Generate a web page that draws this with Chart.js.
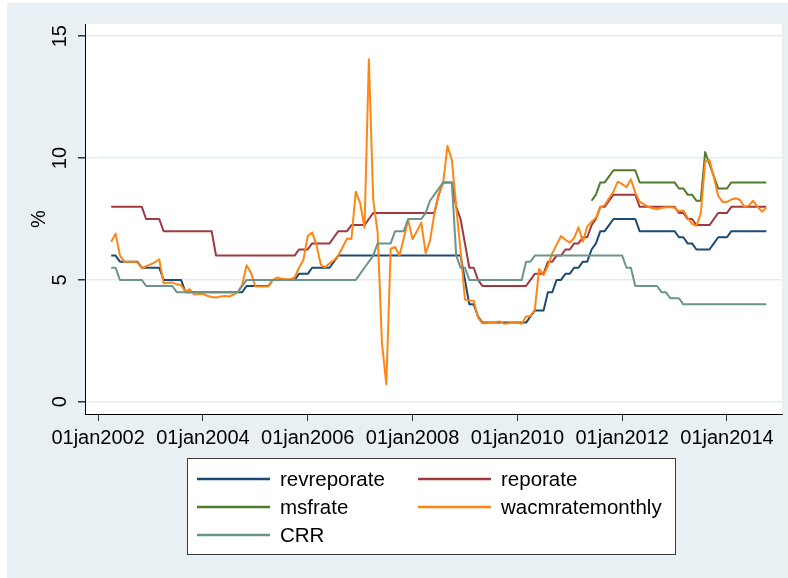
<!DOCTYPE html>
<html>
<head>
<meta charset="utf-8">
<script src="https://cdn.jsdelivr.net/npm/chart.js@4.4.1/dist/chart.umd.min.js"></script>
<style>
    html, body { margin: 0; padding: 0; background: #fff; }
    #wrap { width: 788px; height: 578px; }
</style>
</head>
<body>
<div id="wrap"><canvas id="rates" width="788" height="578"></canvas></div>
<script>
// Monthly series. Month 0 = Jan 2002, so firstMonth 3 = Apr 2002, last point = Oct 2014
const firstMonth = 3;
const msfStart = 113;   // MSF begins May 2011

const revreporate = [
    6, 6, 5.75, 5.75, 5.75, 5.75, 5.75, 5.5, 5.5,                      // 2002
    5.5, 5.5, 5.5, 5, 5, 5, 5, 5, 4.5, 4.5, 4.5, 4.5,                  // 2003
    4.5, 4.5, 4.5, 4.5, 4.5, 4.5, 4.5, 4.5, 4.5, 4.5, 4.75, 4.75,      // 2004
    4.75, 4.75, 4.75, 4.75, 5, 5, 5, 5, 5, 5, 5.25, 5.25,              // 2005
    5.25, 5.5, 5.5, 5.5, 5.5, 5.5, 5.75, 6, 6, 6, 6, 6,                // 2006
    6, 6, 6, 6, 6, 6, 6, 6, 6, 6, 6, 6,                                // 2007
    6, 6, 6, 6, 6, 6, 6, 6, 6, 6, 6, 6,                                // 2008
    5, 4, 4, 3.5, 3.25, 3.25, 3.25, 3.25, 3.25, 3.25, 3.25, 3.25,      // 2009
    3.25, 3.25, 3.25, 3.5, 3.75, 3.75, 3.75, 4.5, 4.5, 5, 5, 5.25,     // 2010
    5.25, 5.5, 5.5, 5.75, 5.75, 6.25, 6.5, 7, 7, 7.25, 7.5, 7.5,       // 2011
    7.5, 7.5, 7.5, 7.5, 7, 7, 7, 7, 7, 7, 7, 7,                        // 2012
    7, 6.75, 6.75, 6.5, 6.5, 6.25, 6.25, 6.25, 6.25, 6.5, 6.75, 6.75,  // 2013
    6.75, 7, 7, 7, 7, 7, 7, 7, 7, 7                                    // 2014
];

const reporate = [
    8, 8, 8, 8, 8, 8, 8, 8, 7.5,
    7.5, 7.5, 7.5, 7, 7, 7, 7, 7, 7, 7, 7, 7,
    7, 7, 7, 6, 6, 6, 6, 6, 6, 6, 6, 6,
    6, 6, 6, 6, 6, 6, 6, 6, 6, 6, 6.25, 6.25,
    6.25, 6.5, 6.5, 6.5, 6.5, 6.5, 6.75, 7, 7, 7, 7.25, 7.25,
    7.25, 7.25, 7.5, 7.75, 7.75, 7.75, 7.75, 7.75, 7.75, 7.75, 7.75, 7.75,
    7.75, 7.75, 7.75, 7.75, 7.75, 7.75, 8.5, 9, 9, 9, 8, 7.5,
    6.5, 5.5, 5.5, 5, 4.75, 4.75, 4.75, 4.75, 4.75, 4.75, 4.75, 4.75,
    4.75, 4.75, 4.75, 5, 5.25, 5.25, 5.25, 5.75, 5.75, 6, 6, 6.25,
    6.25, 6.5, 6.5, 6.75, 6.75, 7.25, 7.5, 8, 8, 8.25, 8.5, 8.5,
    8.5, 8.5, 8.5, 8.5, 8, 8, 8, 8, 8, 8, 8, 8,
    8, 7.75, 7.75, 7.5, 7.5, 7.25, 7.25, 7.25, 7.25, 7.5, 7.75, 7.75,
    7.75, 8, 8, 8, 8, 8, 8, 8, 8, 8
];

const msfrate = [
    8.25, 8.5, 9, 9, 9.25, 9.5, 9.5,                                   // 2011
    9.5, 9.5, 9.5, 9.5, 9, 9, 9, 9, 9, 9, 9, 9,                        // 2012
    9, 8.75, 8.75, 8.5, 8.5, 8.25, 8.25, 10.25, 9.75, 9.25, 8.75, 8.75,// 2013
    8.75, 9, 9, 9, 9, 9, 9, 9, 9, 9                                    // 2014
];

const wacmratemonthly = [
    6.57, 6.9, 6.0, 5.75, 5.75, 5.75, 5.72, 5.48, 5.56,
    5.64, 5.72, 5.85, 4.86, 4.88, 4.89, 4.82, 4.78, 4.52, 4.62, 4.4, 4.42,
    4.43, 4.35, 4.3, 4.28, 4.32, 4.34, 4.32, 4.4, 4.5, 4.8, 5.6, 5.3,
    4.73, 4.73, 4.73, 4.73, 5.0, 5.1, 5.05, 5.03, 5.03, 5.1, 5.5, 5.82,
    6.8, 6.95, 6.45, 5.62, 5.52, 5.68, 5.8, 6.0, 6.35, 6.7, 6.68, 8.62,
    8.15, 7.14, 14.05, 8.28, 6.95, 2.4, 0.72, 6.28, 6.35, 6.0, 6.72, 7.46,
    6.67, 7.0, 7.35, 6.1, 6.6, 7.72, 8.55, 8.96, 10.5, 9.92, 8.0, 6.2,
    4.2, 4.15, 4.15, 3.45, 3.22, 3.22, 3.24, 3.27, 3.3, 3.2, 3.22, 3.25,
    3.25, 3.2, 3.5, 3.52, 3.78, 5.45, 5.2, 5.58, 6.1, 6.45, 6.8, 6.65,
    6.53, 6.72, 7.16, 6.57, 7.19, 7.39, 7.55, 7.98, 8.07, 8.35, 8.62, 9.03,
    8.93, 8.8, 9.13, 8.58, 8.21, 8.1, 8.0, 7.94, 7.9, 7.95, 7.98, 7.98,
    7.96, 7.82, 7.85, 7.55, 7.3, 7.22, 7.72, 9.85, 9.92, 9.2, 8.45, 8.2,
    8.2, 8.3, 8.35, 8.28, 8.0, 8.05, 8.25, 8.0, 7.8, 7.95
];

const crr = [
    5.5, 5.5, 5, 5, 5, 5, 5, 5, 4.75,
    4.75, 4.75, 4.75, 4.75, 4.75, 4.75, 4.5, 4.5, 4.5, 4.5, 4.5, 4.5,
    4.5, 4.5, 4.5, 4.5, 4.5, 4.5, 4.5, 4.5, 4.5, 4.75, 5, 5,
    5, 5, 5, 5, 5, 5, 5, 5, 5, 5, 5, 5,
    5, 5, 5, 5, 5, 5, 5, 5, 5, 5, 5, 5,
    5.25, 5.5, 5.75, 6, 6.5, 6.5, 6.5, 6.5, 7, 7, 7, 7.5,
    7.5, 7.5, 7.5, 7.75, 8.25, 8.5, 8.75, 9, 9, 9, 6, 5.5,
    5.5, 5, 5, 5, 5, 5, 5, 5, 5, 5, 5, 5,
    5, 5, 5.75, 5.75, 6, 6, 6, 6, 6, 6, 6, 6,
    6, 6, 6, 6, 6, 6, 6, 6, 6, 6, 6, 6,
    6, 5.5, 5.5, 4.75, 4.75, 4.75, 4.75, 4.75, 4.75, 4.5, 4.5, 4.25,
    4.25, 4.25, 4, 4, 4, 4, 4, 4, 4, 4, 4, 4,
    4, 4, 4, 4, 4, 4, 4, 4, 4, 4
];

const tickMonths = [0, 24, 48, 72, 96, 120, 144];
const tickLabels = ['01jan2002', '01jan2004', '01jan2006', '01jan2008', '01jan2010', '01jan2012', '01jan2014'];
const yTicks = [0, 5, 10, 15];

const seriesNames = ['revreporate', 'reporate', 'msfrate', 'wacmratemonthly', 'CRR'];
const seriesColors = ['#1c4a74', '#a0383e', '#4f7a2b', '#ff8614', '#6b958a'];

const FONT = '"Liberation Sans", Arial, sans-serif';

function toPoints(values, start) {
    return values.map((v, i) => ({ x: start + i, y: v }));
}

const seriesData = [
    toPoints(revreporate, firstMonth),
    toPoints(reporate, firstMonth),
    toPoints(msfrate, msfStart),
    toPoints(wacmratemonthly, firstMonth),
    toPoints(crr, firstMonth)
];

// stata-like backdrop: light blue graph region, white plot region
const stataBackground = {
    id: 'stataBackground',
    beforeDraw(chart) {
        const { ctx, chartArea: a } = chart;
        ctx.save();
        ctx.fillStyle = '#ffffff';
        ctx.fillRect(0, 0, chart.width, chart.height);
        ctx.fillStyle = '#e8f0f3';
        ctx.fillRect(7, 3, chart.width - 7, chart.height - 3);
        ctx.fillStyle = '#ffffff';
        ctx.fillRect(a.left, a.top, a.right - a.left, a.bottom - a.top);
        ctx.restore();
    }
};

// boxed two-column legend under the axis
const stataLegend = {
    id: 'stataLegend',
    afterDraw(chart) {
        const ctx = chart.ctx;
        const box = { x: 187, y: 458, w: 488, h: 96 };
        ctx.save();
        ctx.fillStyle = '#ffffff';
        ctx.fillRect(box.x, box.y, box.w, box.h);
        ctx.strokeStyle = '#3a3a3a';
        ctx.lineWidth = 1;
        ctx.strokeRect(box.x + 0.5, box.y + 0.5, box.w, box.h);
        ctx.font = '20.5px ' + FONT;
        ctx.textBaseline = 'middle';
        chart.data.datasets.forEach((ds, i) => {
            const col = i % 2;
            const row = Math.floor(i / 2);
            const lx = box.x + 10 + col * 221;
            const ly = box.y + 21 + row * 28;
            ctx.strokeStyle = ds.borderColor;
            ctx.lineWidth = 2.5;
            ctx.beginPath();
            ctx.moveTo(lx, ly);
            ctx.lineTo(lx + 73, ly);
            ctx.stroke();
            ctx.fillStyle = '#000';
            ctx.fillText(ds.label, lx + 83, ly + 1);
        });
        ctx.restore();
    }
};

new Chart(document.getElementById('rates'), {
    type: 'line',
    data: {
        datasets: seriesNames.map((name, i) => ({
            label: name,
            data: seriesData[i],
            borderColor: seriesColors[i],
            backgroundColor: seriesColors[i],
            borderWidth: 2,
            pointRadius: 0,
            tension: 0,
            fill: false,
            borderJoinStyle: 'round',
            order: seriesNames.length - i
        }))
    },
    options: {
        responsive: false,
        animation: false,
        devicePixelRatio: 1,
        layout: { padding: { left: 0, top: 24, right: 6, bottom: 124 } },
        plugins: {
            legend: { display: false },
            tooltip: { enabled: false }
        },
        scales: {
            x: {
                type: 'linear',
                min: -3,
                max: 156.6,
                afterBuildTicks: (scale) => { scale.ticks = tickMonths.map(v => ({ value: v })); },
                afterFit: (scale) => { scale.height = 40; },
                ticks: {
                    autoSkip: false,
                    maxRotation: 0,
                    padding: 5,
                    color: '#000',
                    font: { family: FONT, size: 20 },
                    callback: (value, index) => tickLabels[index]
                },
                grid: { drawOnChartArea: false, tickLength: 7, tickColor: '#333', lineWidth: 1 },
                border: { display: true, color: '#000', width: 1 }
            },
            y: {
                min: -0.5,
                max: 15.5,
                afterBuildTicks: (scale) => { scale.ticks = yTicks.map(v => ({ value: v })); },
                afterFit: (scale) => { scale.width = 85; },
                ticks: {
                    minRotation: 90,
                    maxRotation: 90,
                    crossAlign: 'center',
                    padding: 6,
                    color: '#000',
                    font: { family: FONT, size: 20 }
                },
                title: {
                    display: true,
                    text: '%',
                    color: '#000',
                    font: { family: FONT, size: 20 },
                    padding: { top: 27, bottom: 0 }
                },
                grid: { color: '#e3edf0', lineWidth: 1.5, tickLength: 7, tickColor: '#333' },
                border: { display: true, color: '#000', width: 1 }
            }
        }
    },
    plugins: [stataBackground, stataLegend]
});
</script>
</body>
</html>
